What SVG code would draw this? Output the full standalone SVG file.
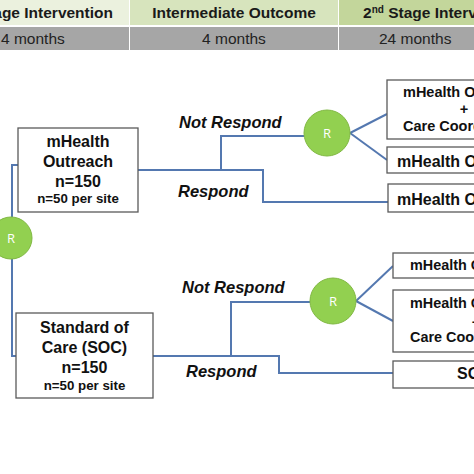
<svg xmlns="http://www.w3.org/2000/svg" width="474" height="474" viewBox="0 0 474 474">
<style>
.hd{font-family:"Liberation Sans",Arial,sans-serif;font-weight:bold;font-size:15.5px;fill:#1a1a1a}
.mo{font-family:"Liberation Sans",Arial,sans-serif;font-size:15.5px;fill:#222}
.box{fill:#fff;stroke:#5a5a5a;stroke-width:1.3}
.t{font-family:"Liberation Sans",Arial,sans-serif;font-weight:bold;fill:#111}
.lbl{font-family:"Liberation Sans",Arial,sans-serif;font-weight:bold;font-style:italic;font-size:16.5px;fill:#111}
.rc{fill:#92d050;stroke:#80b842;stroke-width:1}
.rt{font-family:"Open Sans","Liberation Sans",sans-serif;font-size:13px;fill:#fff;text-anchor:middle}
.cn{fill:none;stroke:#5478b0;stroke-width:2}
</style>
<rect width="474" height="474" fill="#fff"/>
<g id="header">
<rect x="0" y="0" width="129" height="25" fill="#ebf1de"/>
<rect x="130" y="0" width="208" height="25" fill="#d7e4bd"/>
<rect x="339" y="0" width="135" height="25" fill="#c3d69b"/>
<rect x="0" y="27" width="129" height="23" fill="#a6a6a6"/>
<rect x="130" y="27" width="208" height="23" fill="#a6a6a6"/>
<rect x="339" y="27" width="135" height="23" fill="#a6a6a6"/>
<text class="hd" x="113" y="18" text-anchor="end">1<tspan font-size="10" dy="-5">st</tspan><tspan dy="5"> Stage Intervention</tspan></text>
<text class="hd" x="234" y="18" text-anchor="middle">Intermediate Outcome</text>
<text class="hd" x="363" y="18">2<tspan font-size="10" dy="-5">nd</tspan><tspan dy="5"> Stage Intervention</tspan></text>
<text class="mo" x="1" y="44">4 months</text>
<text class="mo" x="234" y="44" text-anchor="middle">4 months</text>
<text class="mo" x="379" y="44">24 months</text>
</g>
<g id="connectors">
<polyline class="cn" points="18,165 12,165 12,217"/>
<polyline class="cn" points="12,259 12,356 16,356"/>
<polyline class="cn" points="138,170 263,170 263,202 388,202"/>
<polyline class="cn" points="221,170 221,136 304,136"/>
<line class="cn" x1="350" y1="133" x2="387" y2="114"/>
<line class="cn" x1="350" y1="133" x2="387" y2="160"/>
<polyline class="cn" points="153,356 279,356 279,373 393,373"/>
<polyline class="cn" points="231,356 231,302 310,302"/>
<line class="cn" x1="356" y1="301" x2="393" y2="266"/>
<line class="cn" x1="356" y1="301" x2="393" y2="321"/>
</g>
<g id="labels">
<text class="lbl" x="179" y="128">Not Respond</text>
<text class="lbl" x="178" y="197">Respond</text>
<text class="lbl" x="182" y="293">Not Respond</text>
<text class="lbl" x="186" y="377">Respond</text>
</g>
<g id="r-main">
<circle class="rc" cx="11" cy="238" r="21"/>
<text class="rt" x="11" y="243">R</text>
</g>
<g id="r-top">
<circle class="rc" cx="327" cy="133" r="23"/>
<text class="rt" x="327" y="138">R</text>
</g>
<g id="r-bottom">
<circle class="rc" cx="333" cy="301" r="23"/>
<text class="rt" x="333" y="306">R</text>
</g>
<g id="mhealth-outreach">
<rect class="box" x="18" y="128" width="120" height="84"/>
<text class="t" font-size="16" x="78" y="147" text-anchor="middle">mHealth</text>
<text class="t" font-size="16" x="78" y="167" text-anchor="middle">Outreach</text>
<text class="t" font-size="16" x="78" y="187" text-anchor="middle">n=150</text>
<text class="t" font-size="13.3" x="78" y="203" text-anchor="middle">n=50 per site</text>
</g>
<g id="soc">
<rect class="box" x="16" y="313" width="137" height="85"/>
<text class="t" font-size="16" x="84.5" y="333" text-anchor="middle">Standard of</text>
<text class="t" font-size="16" x="84.5" y="353" text-anchor="middle">Care (SOC)</text>
<text class="t" font-size="16" x="84.5" y="373" text-anchor="middle">n=150</text>
<text class="t" font-size="13.3" x="84.5" y="390" text-anchor="middle">n=50 per site</text>
</g>
<g id="top-combo">
<rect class="box" x="387" y="80" width="100" height="59"/>
<text class="t" font-size="14.5" x="403" y="97">mHealth Outreach</text>
<text class="t" font-size="14.5" x="464" y="114" text-anchor="middle">+</text>
<text class="t" font-size="14.5" x="403" y="131">Care Coordination</text>
</g>
<g id="top-mhealth-nr">
<rect class="box" x="387" y="147" width="100" height="26"/>
<text class="t" font-size="16" x="397" y="167">mHealth Outreach</text>
</g>
<g id="top-mhealth-r">
<rect class="box" x="388" y="184" width="100" height="28"/>
<text class="t" font-size="16" x="397" y="205">mHealth Outreach</text>
</g>
<g id="bottom-mhealth">
<rect class="box" x="393" y="253" width="100" height="25"/>
<text class="t" font-size="14.4" x="410" y="270">mHealth Outreach</text>
</g>
<g id="bottom-combo">
<rect class="box" x="393" y="290" width="100" height="62"/>
<text class="t" font-size="14.4" x="410" y="308">mHealth Outreach</text>
<text class="t" font-size="14.4" x="476" y="327" text-anchor="middle">+</text>
<text class="t" font-size="14.4" x="410" y="342">Care Coordination</text>
</g>
<g id="bottom-soc">
<rect class="box" x="393" y="361" width="100" height="27"/>
<text class="t" font-size="16" x="457" y="379">SOC</text>
</g>
</svg>
